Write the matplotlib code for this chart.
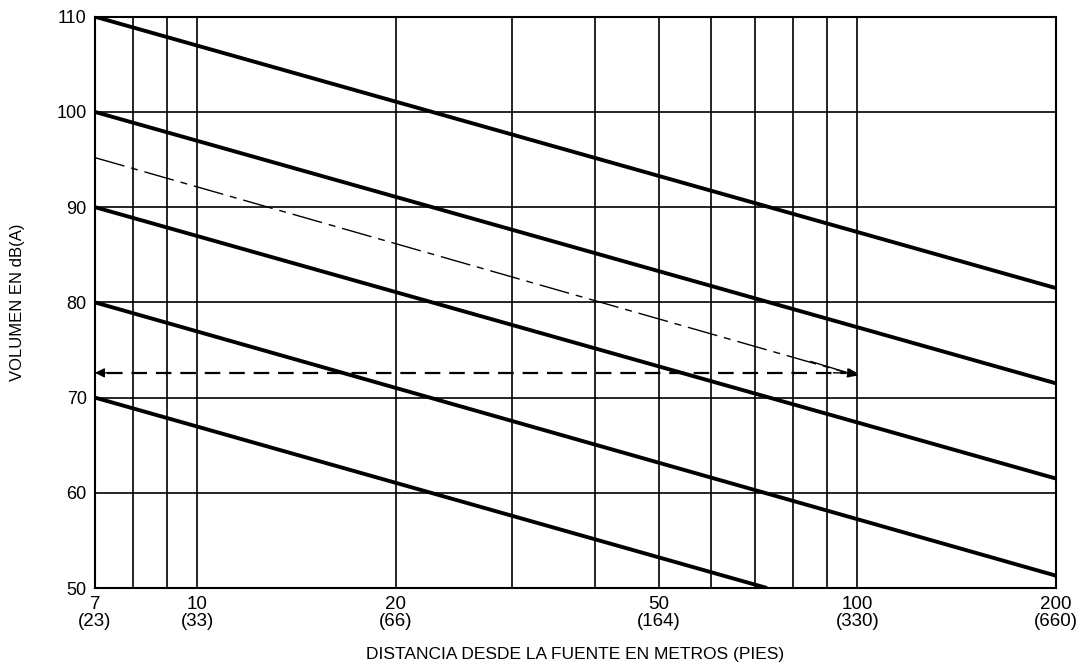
import numpy as np
import matplotlib.pyplot as plt

plt.rcParams['font.family'] = ['Liberation Sans', 'DejaVu Sans']

# rectas de atenuacion (inicio en 7 m, fin en 200 m)
x_ini = [7, 7, 7, 7, 7]
y_ini = [110, 100, 90, 80, 70]
x_fin = [200, 200, 200, 200, 73]
y_fin = [81.5, 71.5, 61.5, 51.3, 50]

# recta de trazo y punto con flecha
x_ejemplo = [7, 100]
y_ejemplo = [95.2, 72.3]
y_flecha = 72.6

x_ticks = [7, 10, 20, 50, 100, 200]
x_labels = ['7\n(23)', '10\n(33)', '20\n(66)', '50\n(164)', '100\n(330)', '200\n(660)']
x_grid = [8, 9, 10, 20, 30, 40, 50, 60, 70, 80, 90, 100]
y_ticks = [50, 60, 70, 80, 90, 100, 110]
y_grid = [60, 70, 80, 90, 100]

fig = plt.figure(figsize=(10.92, 6.69), dpi=100)
ax = fig.add_axes([0.087, 0.121, 0.880, 0.854])
ax.set_xscale('log')
ax.set_xlim(7, 200)
ax.set_ylim(50, 110)

for xv in x_grid:
    ax.axvline(xv, color='black', lw=1.2, zorder=1)
for yv in y_grid:
    ax.axhline(yv, color='black', lw=1.2, zorder=1)

for i in range(len(x_ini)):
    ax.plot([x_ini[i], x_fin[i]], [y_ini[i], y_fin[i]], color='black', lw=2.8,
            solid_capstyle='butt', zorder=3)

ax.plot(x_ejemplo, y_ejemplo, color='black', lw=1.0, dashes=(22, 5, 5, 5), zorder=3)
ax.annotate('', xy=(x_ejemplo[1], y_ejemplo[1]), xytext=(85, 73.8),
            arrowprops=dict(arrowstyle='-|>', color='black', lw=1.0,
                            mutation_scale=14, shrinkA=0, shrinkB=0), zorder=4)

ax.plot([7.3, 96], [y_flecha, y_flecha], color='black', lw=1.6, dashes=(7, 4), zorder=3)
ax.annotate('', xy=(7, y_flecha), xytext=(7.6, y_flecha),
            arrowprops=dict(arrowstyle='-|>', color='black', lw=1.0,
                            mutation_scale=14, shrinkA=0, shrinkB=0), zorder=4)
ax.annotate('', xy=(100, y_flecha), xytext=(92, y_flecha),
            arrowprops=dict(arrowstyle='-|>', color='black', lw=1.0,
                            mutation_scale=14, shrinkA=0, shrinkB=0), zorder=4)

ax.set_xticks(x_ticks)
ax.set_xticklabels(x_labels, fontsize=13.5, linespacing=0.95)
ax.xaxis.set_minor_locator(plt.NullLocator())
ax.set_yticks(y_ticks)
ax.set_yticklabels([str(v) for v in y_ticks], fontsize=13)
ax.tick_params(length=0, pad=6)
for s in ax.spines.values():
    s.set_linewidth(1.5)

ax.set_xlabel('DISTANCIA DESDE LA FUENTE EN METROS (PIES)', fontsize=12.5)
ax.xaxis.set_label_coords(0.5, -0.103)
ax.set_ylabel('VOLUMEN EN dB(A)', fontsize=12)
ax.yaxis.set_label_coords(-0.073, 0.5)

fig.savefig('out.png', dpi=100)
